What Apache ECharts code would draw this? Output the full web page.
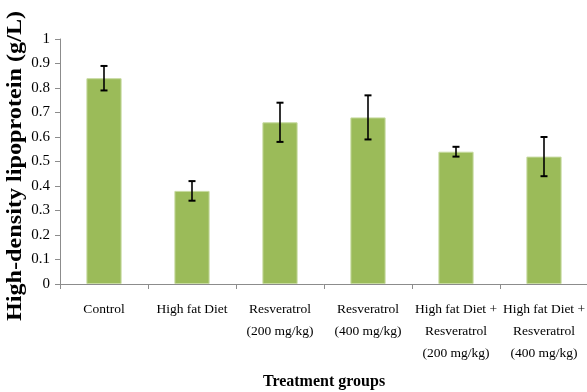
<!DOCTYPE html>
<html>
<head>
<meta charset="utf-8">
<script src="https://cdn.jsdelivr.net/npm/echarts@6/dist/echarts.min.js"></script>
<style>
  html, body { margin: 0; padding: 0; background: #fff; }
  #chart { width: 587px; height: 392px; }
</style>
</head>
<body>
<div id="chart"></div>
<script>
// Treatment groups and HDL levels (g/L), with error bar half-widths
const categories = [
  'Control',
  'High fat Diet',
  'Resveratrol\n(200 mg/kg)',
  'Resveratrol\n(400 mg/kg)',
  'High fat Diet +\nResveratrol\n(200 mg/kg)',
  'High fat Diet +\nResveratrol\n(400 mg/kg)'
];
const hdlMeans = [0.84, 0.38, 0.66, 0.68, 0.54, 0.52];
const hdlErrors = [0.05, 0.04, 0.08, 0.09, 0.02, 0.08];
const yTicks = [0, 0.1, 0.2, 0.3, 0.4, 0.5, 0.6, 0.7, 0.8, 0.9, 1];
const yTitle = 'High-density lipoprotein (g/L)';
const xTitle = 'Treatment groups';

const serif = '"Liberation Serif", "Times New Roman", serif';

const errorData = hdlMeans.map((m, i) => [i, m - hdlErrors[i], m + hdlErrors[i]]);

const chart = echarts.init(document.getElementById('chart'));
chart.setOption({
  animation: false,
  grid: { left: 60, right: -1, top: 39, bottom: 108, containLabel: false, outerBoundsMode: 'none' },
  // Vertical axis title, stretched along its length in the tall serif style
  graphic: [{
    type: 'text',
    x: 15.5,
    y: 166,
    rotation: Math.PI / 2,
    scaleX: 1.21,
    style: {
      text: yTitle,
      font: 'bold 20px ' + serif,
      fill: '#000',
      align: 'center',
      verticalAlign: 'middle'
    }
  }],
  xAxis: {
    type: 'category',
    data: categories,
    name: xTitle,
    nameLocation: 'middle',
    nameGap: 90,
    nameTextStyle: { fontFamily: serif, fontWeight: 'bold', fontSize: 16, color: '#000' },
    axisLine: { lineStyle: { color: '#8c8c8c', width: 1 } },
    axisTick: { show: true, length: 5, lineStyle: { color: '#8c8c8c' } },
    axisLabel: {
      fontFamily: serif, fontSize: 13.5, color: '#000', margin: 14,
      lineHeight: 22, interval: 0
    }
  },
  yAxis: {
    type: 'value',
    min: 0, max: 1, interval: 0.1,
    splitLine: { show: false },
    axisLine: { show: true, lineStyle: { color: '#8c8c8c', width: 1 } },
    axisTick: { show: true, length: 5, lineStyle: { color: '#8c8c8c' } },
    axisLabel: {
      fontFamily: serif, fontSize: 15, color: '#000', margin: 10,
      formatter: v => {
        const t = yTicks.find(x => Math.abs(x - v) < 1e-9);
        return t === undefined ? '' : String(t);
      }
    }
  },
  series: [
    {
      type: 'bar',
      data: hdlMeans,
      barWidth: '40%',
      itemStyle: { color: '#9bbb59', borderColor: '#c7dba0', borderWidth: 1 }
    },
    {
      type: 'custom',
      data: errorData,
      z: 10,
      renderItem: (params, api) => {
        const x = api.value(0);
        const lo = api.coord([x, api.value(1)]);
        const hi = api.coord([x, api.value(2)]);
        const cap = 3.5;
        const style = { stroke: '#000', lineWidth: 1.6 };
        return {
          type: 'group',
          children: [
            { type: 'line', shape: { x1: hi[0], y1: hi[1], x2: lo[0], y2: lo[1] }, style },
            { type: 'line', shape: { x1: hi[0] - cap, y1: hi[1], x2: hi[0] + cap, y2: hi[1] }, style: { stroke: '#000', lineWidth: 2 } },
            { type: 'line', shape: { x1: lo[0] - cap, y1: lo[1], x2: lo[0] + cap, y2: lo[1] }, style: { stroke: '#000', lineWidth: 2 } }
          ]
        };
      }
    }
  ]
});
</script>
</body>
</html>
